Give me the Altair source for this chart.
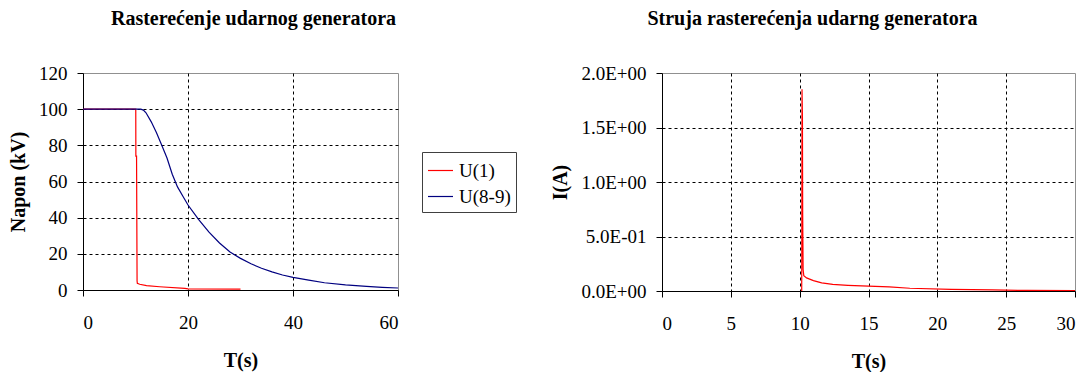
import altair as alt
import pandas as pd

# ---- data: left chart (voltage) ----
u1_t = [0, 10.05, 10.07, 10.2, 10.3, 10.35, 10.8, 12.1, 14.6, 19.4, 20, 30]
u1_v = [100, 100, 74, 74, 5, 3.7, 3.2, 2.4, 1.8, 0.9, 0.6, 0.5]
u89_t = [0, 11, 11.5, 12, 13, 14, 15, 16, 17, 18, 19, 20, 22, 24, 26, 28, 30, 32, 34, 36,
         38, 40, 43, 46, 50, 54, 57, 60]
u89_v = [100, 100, 99.5, 98, 93, 87, 80, 73, 64, 57, 52, 47, 39, 32, 26, 21, 17.5, 14.5,
         12, 10, 8.3, 7, 5.5, 4, 2.8, 2, 1.5, 1.1]
series_names = ["U(1)", "U(8-9)"]
series_colors = ["#ff0000", "#000080"]
left_x_ticks = [0, 20, 40, 60]
left_y_ticks = [0, 20, 40, 60, 80, 100, 120]

# ---- data: right chart (current) ----
i_t = [10.15, 10.17, 10.2, 10.22, 10.25, 10.3, 10.5, 11, 11.6, 12.4, 13.5, 15, 16.5, 18,
       21, 24, 26.5, 30]
i_v = [0, 1.85, 1.6, 0.7, 0.2, 0.14, 0.12, 0.095, 0.075, 0.06, 0.052, 0.045, 0.038, 0.025,
       0.015, 0.01, 0.005, 0.004]
right_x_ticks = [0, 5, 10, 15, 20, 25, 30]
right_y_ticks = [0, 0.5, 1.0, 1.5, 2.0]
right_y_labels = ["0.0E+00", "5.0E-01", "1.0E+00", "1.5E+00", "2.0E+00"]

FONT = "Liberation Serif, Times New Roman, serif"

df_u = pd.concat([
    pd.DataFrame({"t": u1_t, "v": u1_v, "s": series_names[0], "o": 0}),
    pd.DataFrame({"t": u89_t, "v": u89_v, "s": series_names[1], "o": 1}),
], ignore_index=True)
df_i = pd.DataFrame({"t": i_t, "v": i_v})


def grid_hide(a, b):
    return {"condition": {"test": f"datum.value == {a} || datum.value == {b}", "value": 0},
            "value": 1}


def axis(**kw):
    base = dict(domainColor="black", domainWidth=1, tickColor="black", tickSize=6,
                gridColor="black", gridDash=[3, 3], gridWidth=1,
                labelFont=FONT, labelFontSize=19, labelColor="black",
                titleFont=FONT, titleFontSize=20, titleFontWeight="bold", titleColor="black")
    base.update(kw)
    return alt.Axis(**base)


label_expr = " : ".join(
    [f"datum.value == {v} ? '{l}'" for v, l in zip(right_y_ticks, right_y_labels)]
) + " : ''"

XPAD = dict(labelPadding=17, titlePadding=18)
YPAD = dict(labelPadding=10, titlePadding=10)

left = alt.Chart(df_u).mark_line(strokeWidth=1.2, clip=True).encode(
    x=alt.X("t:Q", scale=alt.Scale(domain=[0, 60], nice=False),
            axis=axis(values=left_x_ticks, title="T(s)", gridOpacity=grid_hide(0, 60), **XPAD)),
    y=alt.Y("v:Q", scale=alt.Scale(domain=[0, 120], nice=False),
            axis=axis(values=left_y_ticks, title="Napon (kV)", gridOpacity=grid_hide(0, 120), **YPAD)),
    color=alt.Color("s:N", scale=alt.Scale(domain=series_names, range=series_colors),
                    legend=alt.Legend(title=None, orient="none", legendX=339, legendY=79,
                                      symbolType="stroke", symbolSize=625, symbolStrokeWidth=1.2,
                                      labelFont=FONT, labelFontSize=19, labelColor="black",
                                      labelOffset=5, rowPadding=2, padding=5,
                                      strokeColor="#404040", fillColor="white")),
    order="o:Q",
).properties(
    width=315, height=217,
    title=alt.TitleParams("Rasterećenje udarnog generatora", font=FONT, fontSize=20,
                          fontWeight="bold", color="black", dx=13, offset=35),
)

right = alt.Chart(df_i).mark_line(strokeWidth=1.2, color="#ff0000", clip=True).encode(
    x=alt.X("t:Q", scale=alt.Scale(domain=[0, 30], nice=False),
            axis=axis(values=right_x_ticks, title="T(s)", gridOpacity=grid_hide(0, 30), **XPAD)),
    y=alt.Y("v:Q", scale=alt.Scale(domain=[0, 2], nice=False),
            axis=axis(values=right_y_ticks, title="I(A)", labelExpr=label_expr,
                      gridOpacity=grid_hide(0, 2), **YPAD)),
).properties(
    width=413, height=218,
    title=alt.TitleParams("Struja rasterećenja udarng generatora", font=FONT, fontSize=20,
                          fontWeight="bold", color="black", dx=-56, offset=35),
)

chart = alt.hconcat(left, right, spacing=151).properties(
    padding={"left": 0, "top": 0, "right": 0, "bottom": 0}
).configure_view(
    stroke="#909090", strokeWidth=1
)

chart.save("out.html", embed_options={"renderer": "svg", "actions": False})
